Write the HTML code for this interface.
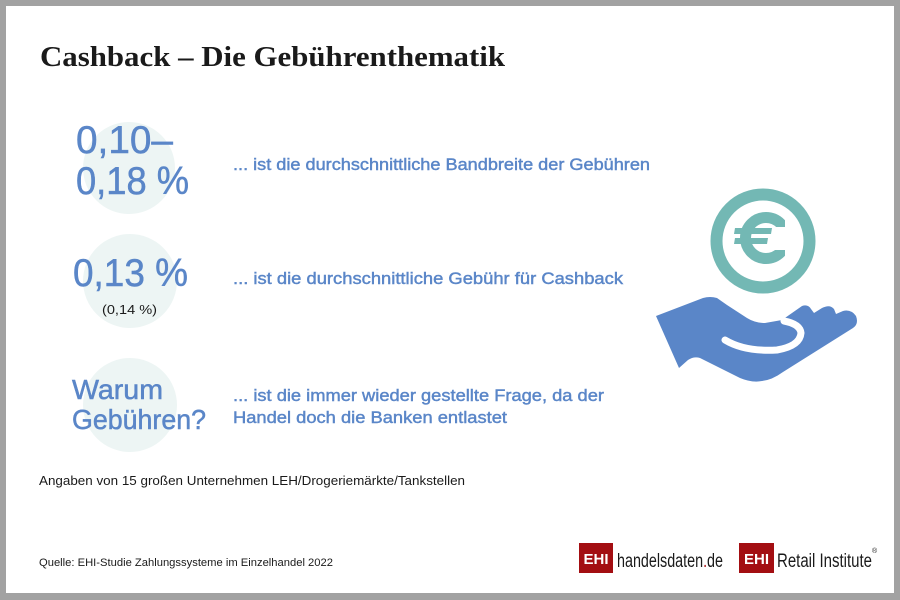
<!DOCTYPE html>
<html><head><meta charset="utf-8"><style>
html,body{margin:0;padding:0;background:#a2a2a2;}
svg{display:block;}
</style></head><body>
<svg width="900" height="600" viewBox="0 0 900 600" xmlns="http://www.w3.org/2000/svg">
<rect x="0" y="0" width="900" height="600" fill="#a2a2a2"/>
<rect x="6" y="6" width="888" height="587" fill="#ffffff"/>

<text x="40" y="66" font-family="Liberation Serif, serif" font-weight="bold" font-size="29" fill="#1a1a1a" textLength="465" lengthAdjust="spacingAndGlyphs">Cashback – Die Gebührenthematik</text>

<circle cx="129" cy="168" r="46" fill="#edf5f4"/>
<circle cx="130" cy="281" r="47" fill="#edf5f4"/>
<circle cx="130" cy="405" r="47" fill="#edf5f4"/>

<g font-family="Liberation Sans, sans-serif" fill="#5a86c8" stroke="#5a86c8" stroke-width="0.5">
<text x="76" y="153" font-size="39" textLength="97" lengthAdjust="spacingAndGlyphs">0,10–</text>
<text x="76" y="194" font-size="39" textLength="113" lengthAdjust="spacingAndGlyphs">0,18 %</text>
<text x="73" y="286" font-size="39" textLength="115" lengthAdjust="spacingAndGlyphs">0,13 %</text>
<text x="72" y="399" font-size="28" textLength="91" lengthAdjust="spacingAndGlyphs">Warum</text>
<text x="72" y="429" font-size="28" textLength="134" lengthAdjust="spacingAndGlyphs">Gebühren?</text>
</g>
<text x="102" y="314" font-family="Liberation Sans, sans-serif" font-size="13" fill="#1a1a1a" textLength="55" lengthAdjust="spacingAndGlyphs">(0,14 %)</text>

<g font-family="Liberation Sans, sans-serif" fill="#5a86c8" stroke="#5a86c8" stroke-width="0.45" font-size="17">
<text x="233" y="170" textLength="417" lengthAdjust="spacingAndGlyphs">... ist die durchschnittliche Bandbreite der Gebühren</text>
<text x="233" y="284" textLength="390" lengthAdjust="spacingAndGlyphs">... ist die durchschnittliche Gebühr für Cashback</text>
<text x="233" y="401" textLength="371" lengthAdjust="spacingAndGlyphs">... ist die immer wieder gestellte Frage, da der</text>
<text x="233" y="423" textLength="274" lengthAdjust="spacingAndGlyphs">Handel doch die Banken entlastet</text>
</g>

<!-- coin -->
<circle cx="766" cy="238" r="20.5" fill="none" stroke="#73b8b4" stroke-width="11"/>
<rect x="785" y="210" width="14" height="58" fill="#ffffff"/>
<rect x="774" y="227" width="12" height="23" fill="#ffffff"/>
<polygon points="735,228 772,228 771,234 734,234" fill="#73b8b4"/>
<polygon points="735,238 768,238 767,244 734,244" fill="#73b8b4"/>
<circle cx="763" cy="241" r="46.5" fill="none" stroke="#73b8b4" stroke-width="12"/>

<!-- hand -->
<path d="M656 316 L703 298 Q710 296 717 298 L727 305 L747 318 Q755 323 765 323 L782 320 L802 306 Q808 304 811 309 L814 313 L822 308 Q830 304 834 309 L836 314 L843 311 Q851 309 856 316 Q859 324 853 328 L783 372 Q772 380 762 381 Q752 383 740 378 L700 358 Q694 356 688 360 L679 368 Z" fill="#5a86c8"/>
<path d="M725 340 Q745 352 777 350 Q800 346 801 333 Q800 324 784 321" fill="none" stroke="#ffffff" stroke-width="7" stroke-linecap="round"/>

<g font-family="Liberation Sans, sans-serif" fill="#1a1a1a">
<text x="39" y="485" font-size="13" textLength="426" lengthAdjust="spacingAndGlyphs">Angaben von 15 großen Unternehmen LEH/Drogeriemärkte/Tankstellen</text>
<text x="39" y="566" font-size="11" textLength="294" lengthAdjust="spacingAndGlyphs">Quelle: EHI-Studie Zahlungssysteme im Einzelhandel 2022</text>
</g>

<!-- logos -->
<rect x="579" y="543" width="34" height="30" fill="#a30e12"/>
<text x="596" y="564" font-family="Liberation Sans, sans-serif" font-weight="bold" font-size="15" fill="#ffffff" text-anchor="middle">EHI</text>
<text x="617" y="567" font-family="Liberation Sans Narrow, Liberation Sans, sans-serif" font-size="19" fill="#1a1a1a" textLength="106" lengthAdjust="spacingAndGlyphs">handelsdaten<tspan fill="#a30e12">.</tspan>de</text>
<rect x="739" y="543" width="35" height="30" fill="#a30e12"/>
<text x="756.5" y="564" font-family="Liberation Sans, sans-serif" font-weight="bold" font-size="15" fill="#ffffff" text-anchor="middle">EHI</text>
<text x="777" y="567" font-family="Liberation Sans Narrow, Liberation Sans, sans-serif" font-size="19" fill="#1a1a1a" textLength="95" lengthAdjust="spacingAndGlyphs">Retail Institute</text>
<text x="872" y="553" font-family="Liberation Sans, sans-serif" font-size="7" fill="#1a1a1a">®</text>
</svg>
</body></html>
